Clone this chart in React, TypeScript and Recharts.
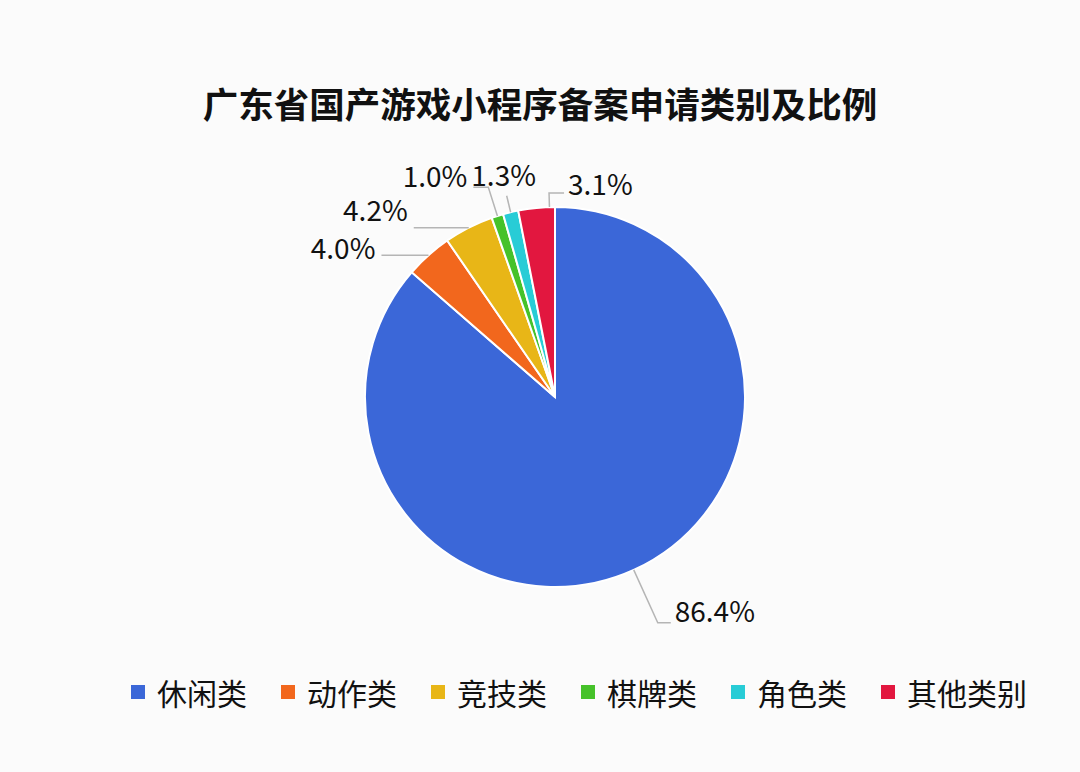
import { PieChart, Pie, Cell, Legend } from "recharts"

const categories = ["休闲类", "动作类", "竞技类", "棋牌类", "角色类", "其他类别"]
const shares = [86.4, 4.0, 4.2, 1.0, 1.3, 3.1]
const colors = ["#3b67d8", "#f2671d", "#e8b617", "#46c22a", "#28ccd6", "#e2173f"]

const data = categories.map((name, i) => ({ name, value: shares[i] }))

// leader line styling per slice: where on the slice it starts, radial run, horizontal run
const guides = [
  { frac: 0.5, len1: 58, len2: 13, side: "right", dy: -1 },
  { frac: 0.5, len1: 0, len2: 47, side: "left", dy: 4 },
  { frac: 0.5, len1: 0, len2: 55, side: "left", dy: -7 },
  { frac: 0.5, len1: 30, len2: 15, side: "left", dy: 0 },
  { frac: 0.5, len1: 17, len2: 0, side: "up", dy: -10 },
  { frac: 0.85, len1: 14, len2: 15, side: "right", dy: 2 },
]

const RAD = Math.PI / 180
const polar = (cx: number, cy: number, r: number, a: number) => ({
  x: cx + r * Math.cos(-a * RAD),
  y: cy + r * Math.sin(-a * RAD),
})

function PctLabel(props: any) {
  const { cx, cy, outerRadius, startAngle, endAngle, index, value } = props
  const g = guides[index]
  const a = startAngle + (endAngle - startAngle) * g.frac
  const p = polar(cx, cy, outerRadius, a)
  const e = polar(cx, cy, outerRadius + g.len1, a)
  let hx = e.x
  if (g.side === "left") hx = e.x - g.len2
  if (g.side === "right") hx = e.x + g.len2
  let tx = hx
  let anchor: "start" | "end" | "middle" = "middle"
  if (g.side === "left") { tx = hx - 6; anchor = "end" }
  if (g.side === "right") { tx = hx + 4; anchor = "start" }
  if (g.side === "up") tx = hx - 3
  return (
    <g>
      <polyline
        points={`${p.x},${p.y} ${e.x},${e.y} ${hx},${e.y}`}
        fill="none"
        stroke="#b5b5b5"
        strokeWidth={1.5}
      />
      <text
        x={tx}
        y={e.y + g.dy}
        textAnchor={anchor}
        fontSize={28}
        fill="#111"
        fontFamily="'Noto Sans CJK SC', sans-serif"
      >
        {value.toFixed(1)}%
      </text>
    </g>
  )
}

function LegendRow() {
  return (
    <div style={{ display: "flex", alignItems: "center", gap: 34, fontFamily: "'Noto Sans CJK SC', sans-serif" }}>
      {categories.map((c, i) => (
        <div key={c} style={{ display: "flex", alignItems: "center", gap: 12 }}>
          <span style={{ width: 14, height: 14, background: colors[i], display: "inline-block" }} />
          <span style={{ fontSize: 30, color: "#111", lineHeight: "32px" }}>{c}</span>
        </div>
      ))}
    </div>
  )
}

export default function App() {
  return (
    <div style={{ position: "absolute", left: 0, top: 0, width: 1080, height: 772, background: "#fbfbfb" }}>
      <div
        style={{
          position: "absolute",
          top: 77,
          left: 0,
          width: 1080,
          textAlign: "center",
          fontSize: 35.5,
          fontWeight: 700,
          color: "#111",
          fontFamily: "'Noto Sans CJK SC', sans-serif",
        }}
      >
        广东省国产游戏小程序备案申请类别及比例
      </div>
      <PieChart width={1080} height={772} margin={{ top: 0, right: 0, bottom: 0, left: 0 }}>
        <Pie
          data={data}
          dataKey="value"
          nameKey="name"
          cx={555}
          cy={397}
          outerRadius={190}
          startAngle={90}
          endAngle={-270}
          stroke="#ffffff"
          strokeWidth={2}
          label={PctLabel}
          labelLine={false}
          isAnimationActive={false}
        >
          {data.map((d, i) => (
            <Cell key={d.name} fill={colors[i]} />
          ))}
        </Pie>
        <Legend content={<LegendRow />} wrapperStyle={{ position: "absolute", top: 676, left: 131, width: 949 }} />
      </PieChart>
    </div>
  )
}
